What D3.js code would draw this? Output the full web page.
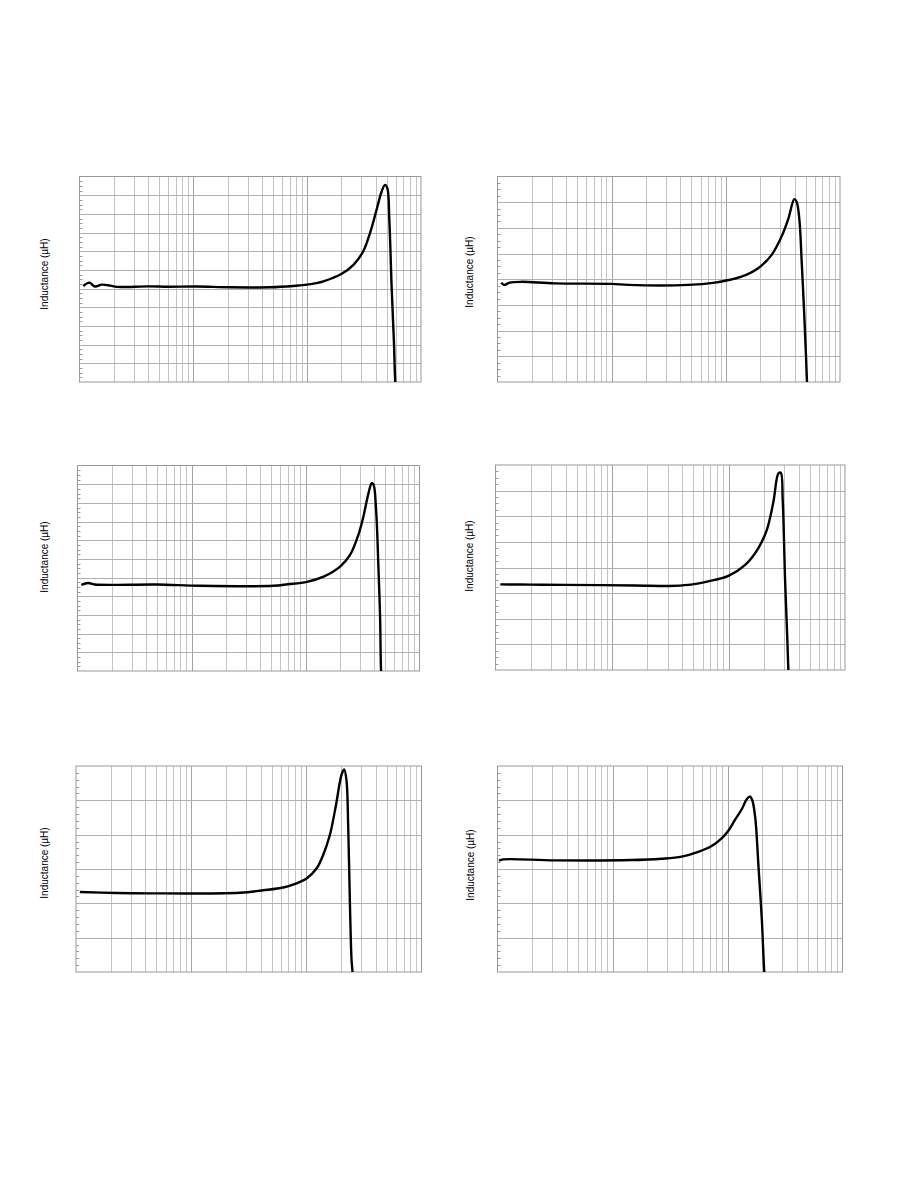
<!DOCTYPE html>
<html>
<head>
<meta charset="utf-8">
<script src="https://cdn.jsdelivr.net/npm/d3@7"></script>
<style>
  html, body { margin: 0; padding: 0; background: #fff; }
  svg { display: block; }
</style>
</head>
<body>
<svg id="chart" width="918" height="1188"></svg>
<script>
// ---- Data (frequency in MHz, inductance in chart grid units) ----
const yLabel = "Inductance (\u00b5H)";
const xDomain = [1, 1000];

const freq1 = [1.08, 1.22, 1.37, 1.57, 1.86, 2.13, 4, 6, 10.7, 21.0, 47.2, 75.7, 100, 139, 201, 255, 311, 356, 407, 451, 483, 506, 527, 552, 579, 594, 620];
const ind1  = [5.14, 5.32, 5.11, 5.21, 5.16, 5.09, 5.12, 5.10, 5.11, 5.07, 5.07, 5.14, 5.21, 5.39, 5.79, 6.27, 7.0, 7.96, 9.21, 10.2, 10.55, 10.38, 8.68, 5.11, 2.07, 0, -1.5];

const freq2 = [1.08, 1.14, 1.28, 1.62, 3.18, 9.98, 14.0, 46.9, 80.4, 101, 137, 192, 252, 308, 352, 398, 418, 441, 461, 484, 504, 514, 530];
const ind2  = [3.87, 3.78, 3.87, 3.90, 3.84, 3.82, 3.78, 3.78, 3.87, 3.95, 4.10, 4.43, 4.95, 5.66, 6.34, 7.12, 7.0, 6.31, 4.75, 2.81, 0.99, 0, -1];

const freq3 = [1.08, 1.24, 1.42, 4.94, 12.0, 52.2, 70.0, 103, 144, 201, 246, 291, 322, 357, 381, 395, 416, 437, 451, 460, 475];
const ind3  = [4.61, 4.71, 4.63, 4.63, 4.56, 4.56, 4.64, 4.77, 5.05, 5.59, 6.21, 7.29, 8.27, 9.52, 10.05, 9.98, 8.63, 5.41, 2.91, 0, -1.5];

const freq4 = [1.10, 2.05, 3.96, 15.8, 30.5, 45.3, 67.1, 99.8, 139, 180, 213, 243, 268, 281, 292, 306, 320, 327, 340];
const ind4  = [3.34, 3.33, 3.32, 3.30, 3.28, 3.32, 3.46, 3.67, 4.10, 4.75, 5.46, 6.57, 7.67, 7.70, 6.63, 3.51, 1.17, 0, -1];

const freq5 = [1.08, 2.25, 4.39, 26.5, 42.3, 63.0, 82.2, 101, 123, 140, 160, 180, 202, 213, 223, 231, 239, 247, 252, 262];
const ind5  = [2.33, 2.30, 2.29, 2.31, 2.38, 2.46, 2.58, 2.73, 3.02, 3.41, 3.99, 4.82, 5.74, 5.90, 5.59, 4.23, 2.00, 0.35, 0, -0.8];

const freq6 = [1.03, 1.12, 3.16, 14.7, 26.7, 39.9, 55.7, 72.8, 88.9, 102, 116, 133, 147, 157, 164, 174, 186, 199, 209, 220];
const ind6  = [3.24, 3.28, 3.25, 3.26, 3.30, 3.36, 3.50, 3.67, 3.89, 4.12, 4.43, 4.74, 5.03, 5.11, 5.01, 4.52, 3.07, 1.51, 0, -0.8];

const yMax = [11, 8, 11, 8, 6, 6];          // number of major grid steps
const yMinorDiv = [4, 4, 4, 4, 5, 5];       // minor subdivisions per major step

// ---- Layout ----
const layout = [
  { l: 79.5, r: 421, t: 176.5, b: 382, labelX: 44, labelY: 274 },
  { l: 497.5, r: 840, t: 176.5, b: 382, labelX: 469.5, labelY: 272 },
  { l: 77.5, r: 419.5, t: 465.5, b: 671, labelX: 44, labelY: 557 },
  { l: 495.5, r: 845, t: 465, b: 670, labelX: 469.5, labelY: 556 },
  { l: 76, r: 421.5, t: 766, b: 972, labelX: 44, labelY: 863 },
  { l: 497.5, r: 842.5, t: 766, b: 972, labelX: 470.5, labelY: 865 }
];

const series = [
  [freq1, ind1], [freq2, ind2], [freq3, ind3],
  [freq4, ind4], [freq5, ind5], [freq6, ind6]
];

const svg = d3.select("#chart");

series.forEach(([fx, vy], i) => {
  const L = layout[i];
  const x = d3.scaleLog().domain(xDomain).range([L.l, L.r]);
  const y = d3.scaleLinear().domain([0, yMax[i]]).range([L.b, L.t]);
  const g = svg.append("g");

  const clipId = "clip" + i;
  svg.append("clipPath").attr("id", clipId)
    .append("rect").attr("x", L.l).attr("y", L.t)
    .attr("width", L.r - L.l).attr("height", L.b - L.t);

  // vertical minor grid lines (2..9 in each decade)
  const minorX = [];
  for (let d = 1; d < 1000; d *= 10)
    for (let k = 2; k <= 9; k++) minorX.push(d * k);
  g.append("g").selectAll("line").data(minorX).join("line")
    .attr("x1", d => Math.round(x(d)) + 0.5).attr("x2", d => Math.round(x(d)) + 0.5)
    .attr("y1", L.t).attr("y2", L.b)
    .attr("stroke", "#c4c4c4").attr("stroke-width", 1);

  // decade lines
  g.append("g").selectAll("line").data([10, 100]).join("line")
    .attr("x1", d => Math.round(x(d)) + 0.5).attr("x2", d => Math.round(x(d)) + 0.5)
    .attr("y1", L.t).attr("y2", L.b)
    .attr("stroke", "#a4a4a4").attr("stroke-width", 1);

  // horizontal major grid lines
  g.append("g").selectAll("line").data(d3.range(1, yMax[i])).join("line")
    .attr("x1", L.l).attr("x2", L.r)
    .attr("y1", d => Math.round(y(d)) + 0.5).attr("y2", d => Math.round(y(d)) + 0.5)
    .attr("stroke", "#b0b0b0").attr("stroke-width", 1);

  // minor ticks on the left axis (inside)
  const minorY = [];
  for (let m = 0; m < yMax[i]; m++)
    for (let s = 1; s < yMinorDiv[i]; s++) minorY.push(m + s / yMinorDiv[i]);
  g.append("g").selectAll("line").data(minorY).join("line")
    .attr("x1", L.l).attr("x2", L.l + 3)
    .attr("y1", d => Math.round(y(d)) + 0.5).attr("y2", d => Math.round(y(d)) + 0.5)
    .attr("stroke", "#9a9a9a").attr("stroke-width", 1);

  // border
  g.append("rect")
    .attr("x", L.l).attr("y", L.t)
    .attr("width", L.r - L.l).attr("height", L.b - L.t)
    .attr("fill", "none").attr("stroke", "#999").attr("stroke-width", 1);

  // curve
  const pts = fx.map((f, j) => [f, vy[j]]);
  const line = d3.line()
    .x(d => x(d[0])).y(d => y(d[1]))
    .curve(d3.curveCatmullRom.alpha(0.5));
  g.append("path")
    .attr("clip-path", "url(#" + clipId + ")")
    .attr("d", line(pts))
    .attr("fill", "none").attr("stroke", "#000")
    .attr("stroke-width", 2.4).attr("stroke-linejoin", "round");

  // y label
  g.append("text")
    .attr("transform", `translate(${L.labelX},${L.labelY}) rotate(-90)`)
    .attr("text-anchor", "middle")
    .attr("dominant-baseline", "central")
    .attr("font-family", "Liberation Sans, Arial, sans-serif")
    .attr("font-size", 10)
    .attr("fill", "#000")
    .text(yLabel);
});
</script>
</body>
</html>
